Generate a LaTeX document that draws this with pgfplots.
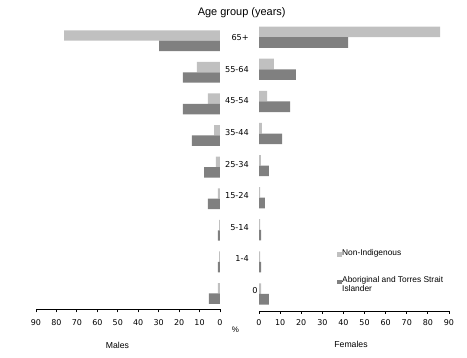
\documentclass[border=0pt]{standalone}
\usepackage{fontspec}
\setmainfont{Liberation Sans}
\newfontfamily\dejavu{DejaVu Sans}
\usepackage{pgfplots}
\pgfplotsset{compat=1.18}
\definecolor{lightbar}{RGB}{192,192,192}
\definecolor{darkbar}{RGB}{128,128,128}
\begin{document}
\begin{tikzpicture}
\path[use as bounding box] (0,0) rectangle (467bp,358bp);
% Males
\begin{axis}[
  at={(36bp,48.7bp)}, anchor=south west,
  width=184bp, height=284.4bp, scale only axis,
  xmin=-90, xmax=0, ymin=-0.5, ymax=8.5,
  axis x line*=bottom, axis y line*=right,
  y axis line style={draw=none},
  x axis line style={-, line width=0.8bp},
  xtick={-90,-80,...,0},
  xticklabels={90,80,70,60,50,40,30,20,10,0},
  ytick={0,...,8},
  yticklabels={\rlap{\kern4bp 0},1-4,5-14,15-24,25-34,35-44,45-54,55-64,65+},
  tick align=outside, major tick length=3bp,
  xtick style={black, line width=0.8bp}, ytick style={draw=none},
  xticklabel style={font=\dejavu\fontsize{8}{9}\selectfont, inner sep=0pt, yshift=-7bp},
  yticklabel style={font=\dejavu\fontsize{8.2}{9}\selectfont, anchor=base east, inner sep=0pt, xshift=26bp},
  xbar, bar width=0.33,
]
\addplot[fill=lightbar, draw=none, bar shift=0.165] coordinates {
(-76.3,8) (-11.3,7) (-5.9,6) (-2.9,5) (-2.0,4) (-1.0,3) (-0.4,2) (-0.4,1) (-1.0,0)};
\addplot[fill=darkbar, draw=none, bar shift=-0.165] coordinates {
(-29.8,8) (-18.1,7) (-18.1,6) (-13.7,5) (-7.8,4) (-5.9,3) (-1.0,2) (-1.0,1) (-5.4,0)};
\end{axis}
% Females
\begin{axis}[
  at={(259bp,47bp)}, anchor=south west,
  width=190bp, height=289.8bp, scale only axis,
  xmin=0, xmax=90, ymin=-0.53, ymax=8.5,
  axis x line*=bottom, axis y line=none,
  x axis line style={-, line width=0.8bp},
  xtick={0,10,...,90}, ytick=\empty,
  tick align=outside, major tick length=3bp,
  xtick style={black, line width=0.8bp},
  xticklabel style={font=\dejavu\fontsize{8}{9}\selectfont, inner sep=0pt, yshift=-5.1bp},
  /pgf/number format/assume math mode=true,
  xbar, bar width=0.33,
  legend cell align=left,
  legend style={draw=none, fill=none, at={(0.412,0.2126)}, anchor=north west,
    inner sep=0pt, outer sep=0pt, row sep=18.4bp, column sep=0pt,
    font=\fontsize{8.4}{9}\selectfont, nodes={inner sep=0.5bp, align=left}},
]
\addplot[fill=lightbar, draw=none, bar shift=0.165,
  legend image code/.code={\fill[lightbar] (0bp,-2.85bp) rectangle (4.4bp,1.55bp);}] coordinates {
(85.8,8) (7.1,7) (3.8,6) (1.4,5) (0.9,4) (0.5,3) (0.5,2) (0.5,1) (1.0,0)};
\addlegendentry{Non-Indigenous}
\addplot[fill=darkbar, draw=none, bar shift=-0.165,
  legend image code/.code={\fill[darkbar] (0bp,0.75bp) rectangle (4.4bp,5.15bp);}] coordinates {
(42.2,8) (17.5,7) (14.7,6) (10.9,5) (4.7,4) (2.8,3) (1.0,2) (1.0,1) (4.7,0)};
\addlegendentry{Aboriginal and Torres Strait\\Islander}
\end{axis}
\node[font=\fontsize{11}{12}\selectfont, anchor=base] at (241.7bp,342.3bp) {Age group (years)};
\node[font=\fontsize{8.7}{10}\selectfont, anchor=base] at (117.5bp,9.3bp) {Males};
\node[font=\fontsize{8.7}{10}\selectfont, anchor=base] at (351bp,10.3bp) {Females};
\node[font=\fontsize{8}{9}\selectfont, anchor=base] at (235.5bp,26bp) {\%};
\end{tikzpicture}
\end{document}
